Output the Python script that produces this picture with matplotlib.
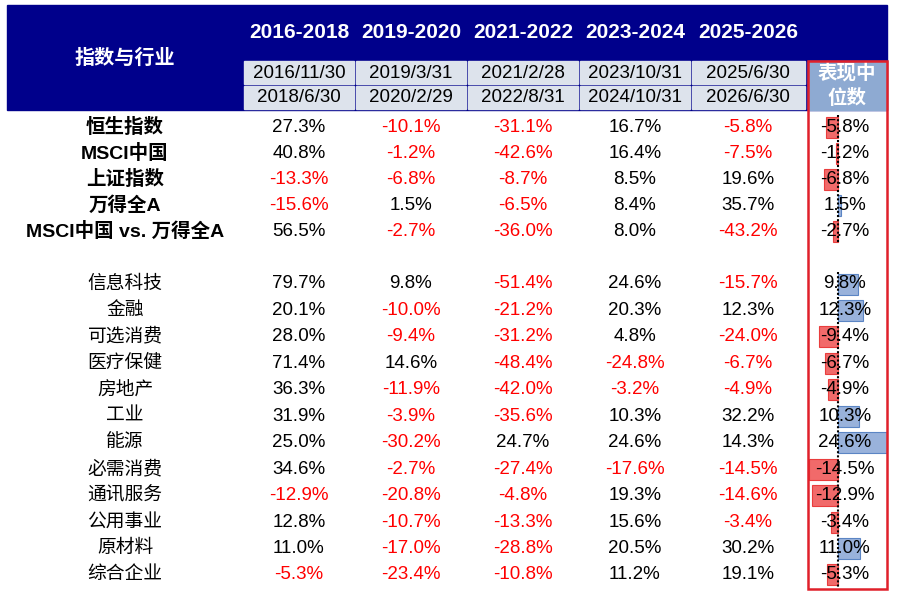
import matplotlib.pyplot as plt
from matplotlib.patches import Rectangle

periods = ["2016-2018", "2019-2020", "2021-2022", "2023-2024", "2025-2026"]
starts = ["2016/11/30", "2019/3/31", "2021/2/28", "2023/10/31", "2025/6/30"]
ends = ["2018/6/30", "2020/2/29", "2022/8/31", "2024/10/31", "2026/6/30"]

index_names = ["恒生指数", "MSCI中国", "上证指数", "万得全A", "MSCI中国 vs. 万得全A"]
index_vals = [
    [27.3, -10.1, -31.1, 16.7, -5.8],
    [40.8, -1.2, -42.6, 16.4, -7.5],
    [-13.3, -6.8, -8.7, 8.5, 19.6],
    [-15.6, 1.5, -6.5, 8.4, 35.7],
    [56.5, -2.7, -36.0, 8.0, -43.2],
]
index_median = [-5.8, -1.2, -6.8, 1.5, -2.7]

sector_names = ["信息科技", "金融", "可选消费", "医疗保健", "房地产", "工业", "能源",
                "必需消费", "通讯服务", "公用事业", "原材料", "综合企业"]
sector_vals = [
    [79.7, 9.8, -51.4, 24.6, -15.7],
    [20.1, -10.0, -21.2, 20.3, 12.3],
    [28.0, -9.4, -31.2, 4.8, -24.0],
    [71.4, 14.6, -48.4, -24.8, -6.7],
    [36.3, -11.9, -42.0, -3.2, -4.9],
    [31.9, -3.9, -35.6, 10.3, 32.2],
    [25.0, -30.2, 24.7, 24.6, 14.3],
    [34.6, -2.7, -27.4, -17.6, -14.5],
    [-12.9, -20.8, -4.8, 19.3, -14.6],
    [12.8, -10.7, -13.3, 15.6, -3.4],
    [11.0, -17.0, -28.8, 20.5, 30.2],
    [-5.3, -23.4, -10.8, 11.2, 19.1],
]
sector_median = [9.8, 12.3, -9.4, -6.7, -4.9, 10.3, 24.6, -14.5, -12.9, -3.4, 11.0, -5.3]

FONT = ["Liberation Sans", "Noto Sans CJK SC"]
NAVY = "#00008b"
LIGHT = "#dde3ec"
FS = 13.5

fig = plt.figure(figsize=(9, 5.98), dpi=100)
ax = fig.add_axes([0, 0, 1, 1])
ax.set_xlim(0, 900)
ax.set_ylim(598, 0)
ax.axis("off")

col_x = [299, 411, 523, 635, 748]
col_left = [244, 356, 468, 580, 692]
col_w = [110, 110, 110, 110, 113]

# header
ax.add_patch(Rectangle((7, 5), 880, 105, color=NAVY, zorder=0))
ax.text(125, 58, "指数与行业", color="white", fontsize=14.5, fontweight="bold",
        ha="center", va="center", family=FONT)
for i, p in enumerate(periods):
    ax.text(col_x[i], 32, p, color="white", fontsize=15, fontweight="bold",
            ha="center", va="center", family=FONT)
    ax.add_patch(Rectangle((col_left[i], 61), col_w[i], 23, color=LIGHT, zorder=1))
    ax.add_patch(Rectangle((col_left[i], 86), col_w[i], 23, color=LIGHT, zorder=1))
    ax.text(col_x[i], 73, starts[i], fontsize=FS, ha="center", va="center", family=FONT)
    ax.text(col_x[i], 98, ends[i], fontsize=FS, ha="center", va="center", family=FONT)
ax.add_patch(Rectangle((808, 61), 79, 49, color="#8eaad2", zorder=1))
ax.text(847, 73, "表现中", color="white", fontsize=14, fontweight="bold", style="italic",
        ha="center", va="center", family=["Noto Sans CJK SC"])
ax.text(847, 98, "位数", color="white", fontsize=14, fontweight="bold", style="italic",
        ha="center", va="center", family=["Noto Sans CJK SC"])
ax.add_patch(Rectangle((808, 61), 79, 528, fill=False, ec="#e0202a", lw=1.8, zorder=5))

y_index = [127 + 26.1 * i for i in range(5)]
y_sector = [284 + 26.45 * i for i in range(12)]
zero_x = 838
scale = 2.0


def fmt(v):
    return f"{v:.1f}%"


def draw_rows(names, vals, med, ys, bold):
    for name, row, m, y in zip(names, vals, med, ys):
        ax.text(125, y, name, fontsize=14 if bold else FS,
                fontweight="bold" if bold else "normal",
                ha="center", va="center", family=FONT)
        for i, v in enumerate(row):
            ax.text(col_x[i], y, fmt(v), fontsize=FS, ha="center", va="center",
                    color="#ff0000" if v < 0 else "black", family=FONT)
        color = "#f05a5a" if m < 0 else "#8eaad8"
        edge = "#e83030" if m < 0 else "#4f7cc0"
        ax.barh(y, m * scale, left=zero_x, height=21, color=color, edgecolor=edge,
                lw=0.8, alpha=0.9, zorder=2)
        ax.text(845, y, fmt(m), fontsize=FS, ha="center", va="center", zorder=4,
                family=FONT)
    ax.plot([zero_x, zero_x], [ys[0] - 12, ys[-1] + 12], color="black", lw=1.5,
            ls=(0, (1, 1)), zorder=3)


draw_rows(index_names, index_vals, index_median, y_index, True)
draw_rows(sector_names, sector_vals, sector_median, y_sector, False)

fig.savefig("out.png", dpi=100)
